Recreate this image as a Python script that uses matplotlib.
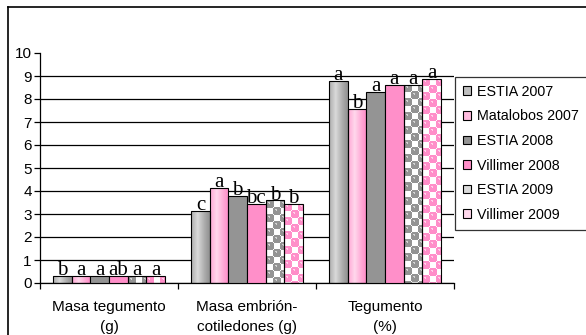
import numpy as np
import matplotlib
matplotlib.use("Agg")
import matplotlib.pyplot as plt
from matplotlib.patches import Patch
from matplotlib.lines import Line2D

# ---- data ----
categories = ["Masa tegumento\n(g)", "Masa embrión-\ncotiledones (g)", "Tegumento\n(%)"]
series = ["ESTIA 2007", "Matalobos 2007", "ESTIA 2008", "Villimer 2008", "ESTIA 2009", "Villimer 2009"]
estia_2007 = [0.30, 3.15, 8.80]
matalobos_2007 = [0.30, 4.15, 7.57]
estia_2008 = [0.30, 3.78, 8.30]
villimer_2008 = [0.30, 3.45, 8.63]
estia_2009 = [0.30, 3.60, 8.63]
villimer_2009 = [0.30, 3.45, 8.88]
values = [estia_2007, matalobos_2007, estia_2008, villimer_2008, estia_2009, villimer_2009]
letters = [
    ["b", "c", "a"],
    ["a", "a", "b"],
    ["a", "b", "a"],
    ["ab", "bc", "a"],
    ["a", "b", "a"],
    ["a", "b", "a"],
]
y_ticks = list(range(0, 11))

# ---- style ----
plt.rcParams["font.family"] = ["Liberation Sans", "DejaVu Sans"]
W, H, DPI = 586, 335, 100
fig = plt.figure(figsize=(W / DPI, H / DPI), dpi=DPI)
fig.patch.set_facecolor("white")

def px_axes(l, t, r, b):
    return [l / W, 1 - b / H, (r - l) / W, (b - t) / H]

ax = fig.add_axes(px_axes(40, 53, 454, 283))
ax.set_xlim(-0.5, 2.5)
ax.set_ylim(0, 10)

GRAY = np.array([0.58, 0.58, 0.58])
PINK = np.array([1.0, 0.56, 0.79])
fills = [
    ("gradient", GRAY),
    ("gradient", PINK),
    ("solid", GRAY),
    ("solid", PINK),
    ("texture", GRAY),
    ("texture", PINK),
]

def gradient(w, h, base):
    x = np.linspace(0, 1, max(w, 2))
    light = np.clip(1 - np.abs(x - 0.35) / 0.65, 0, 1) ** 1.2
    col = base[None, :] * (1 - 0.65 * light[:, None]) + 0.65 * light[:, None]
    img = np.repeat(col[None, :, :], max(h, 2), axis=0)
    return img

def texture(w, h, base, cell=7.0):
    yy, xx = np.mgrid[0:max(h, 2), 0:max(w, 2)].astype(float)
    u = xx / cell
    v = yy / cell
    cu = np.floor(u) + 0.5
    cv = np.floor(v) + 0.5
    on = ((np.floor(u) + np.floor(v)) % 2 == 0)
    img = np.ones((yy.shape[0], yy.shape[1], 3))
    sphere = np.zeros_like(on)
    for du in (-1, 0, 1):
        for dv in (-1, 0, 1):
            ncu = cu + du
            ncv = cv + dv
            non = ((np.floor(ncu) + np.floor(ncv)) % 2 == 0)
            dd = np.hypot(u - ncu, v - ncv)
            sphere = sphere | (non & (dd < 0.64))
    img[sphere] = base
    hl = sphere & on & (np.hypot(u - cu + 0.1, v - cv + 0.2) < 0.15)
    img[hl] = base * 0.4 + 0.6
    return img

n = len(series)
group_w = 0.81
bar_w = group_w / n
x = np.arange(len(categories))
fig.canvas.draw()
to_px = ax.transData

for s in range(n):
    kind, base = fills[s]
    offs = -group_w / 2 + bar_w * (s + 0.5)
    for c in range(len(categories)):
        val = values[s][c]
        xc = x[c] + offs
        face = base if kind == "solid" else "none"
        bar = ax.bar(xc, val, width=bar_w, color=face, edgecolor="black",
                     linewidth=0.8, zorder=3)[0]
        if kind != "solid":
            p0 = to_px.transform((xc - bar_w / 2, 0))
            p1 = to_px.transform((xc + bar_w / 2, val))
            wpx = int(round(p1[0] - p0[0]))
            hpx = int(round(p1[1] - p0[1]))
            img = gradient(wpx, hpx, base) if kind == "gradient" else texture(wpx, hpx, base)
            im = ax.imshow(img, extent=(xc - bar_w / 2, xc + bar_w / 2, 0, val),
                           aspect="auto", interpolation="nearest", zorder=2.5,
                           origin="upper")
            im.set_clip_path(bar)
        ax.annotate(letters[s][c], (xc, val), xytext=(0, 0.5), textcoords="offset points",
                    ha="center", va="baseline", fontsize=15,
                    family=["Liberation Serif", "DejaVu Serif"], zorder=4)

ax.set_xlim(-0.5, 2.5)
ax.set_ylim(0, 10)

# axes styling
for side in ("top", "right"):
    ax.spines[side].set_visible(False)
for side in ("left", "bottom"):
    ax.spines[side].set_color("black")
    ax.spines[side].set_linewidth(0.9)

ax.set_yticks(y_ticks)
ax.tick_params(axis="y", length=4, width=0.9, labelsize=11, pad=2, direction="out")
ax.yaxis.grid(True, color="black", linewidth=0.9, zorder=0)
ax.set_axisbelow(True)
ax.yaxis.get_gridlines()[-1].set_visible(False)

ax.set_xticks(x)
ax.set_xticklabels(categories, fontsize=11, linespacing=1.55)
ax.tick_params(axis="x", length=0, pad=12)
ax.set_xticks([-0.5, 0.5, 1.5, 2.5], minor=True)
ax.tick_params(axis="x", which="minor", length=4, width=0.9, direction="out")

# legend
handles = []
for s in range(n):
    kind, base = fills[s]
    if kind == "solid":
        fc = base
    elif kind == "gradient":
        fc = base * 0.6 + 0.4
    else:
        fc = base * 0.35 + 0.65
    handles.append(Patch(facecolor=fc, edgecolor="black", linewidth=0.8))
leg = fig.legend(handles, series, loc="upper left",
                 bbox_to_anchor=(455 / W, 1 - 77 / H), fontsize=10.3,
                 frameon=True, fancybox=False, edgecolor="black",
                 handlelength=0.55, handleheight=0.55, handletextpad=0.45,
                 labelspacing=0.74, borderpad=0.55, borderaxespad=0.0)
leg.get_frame().set_linewidth(0.9)

# chart frame (top and left edges visible)
fig.add_artist(Line2D([8 / W, 1.0], [1 - 7 / H, 1 - 7 / H], color="black", linewidth=1.2))
fig.add_artist(Line2D([8 / W, 8 / W], [0.0, 1 - 7 / H], color="black", linewidth=1.2))

fig.savefig("out.png", dpi=DPI, facecolor="white")
